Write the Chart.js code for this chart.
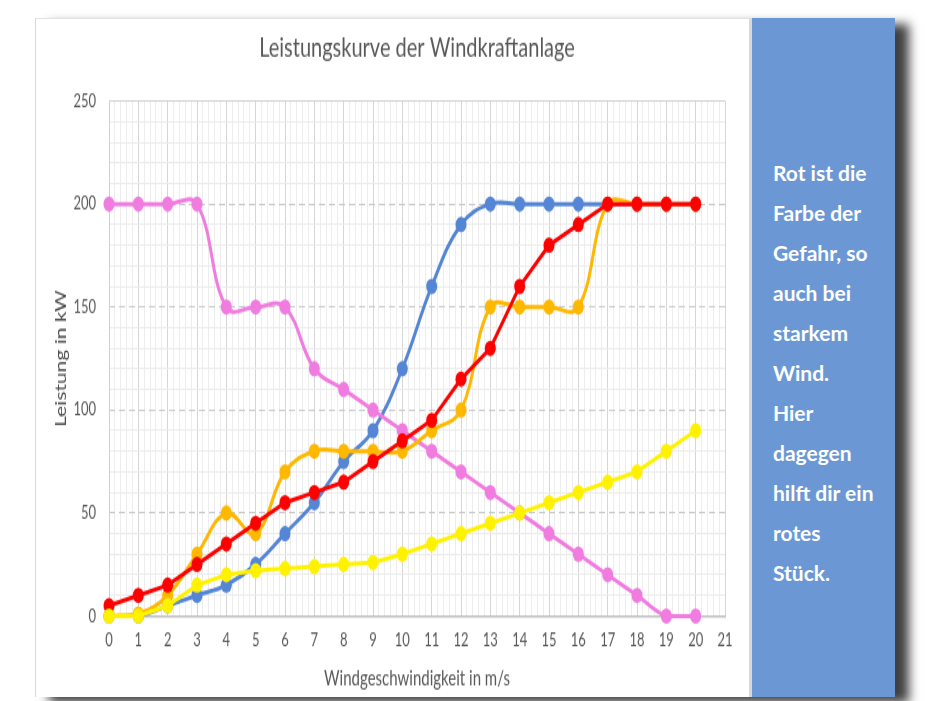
<!DOCTYPE html>
<html>
<head>
<meta charset="utf-8">
<script src="https://cdn.jsdelivr.net/npm/chart.js@4.4.1/dist/chart.umd.min.js"></script>
<style>
  body { margin: 0; width: 925px; height: 701px; background: #fff; position: relative; overflow: hidden; font-family: Lato, sans-serif; }
  #shadow { position: absolute; left: 35px; top: 18px; width: 860px; height: 679px; box-shadow: 14px 6px 10px rgba(0,0,0,0.75); }
  #frame { position: absolute; left: 35px; top: 18px; width: 717px; height: 679px; background: #fff; box-sizing: border-box;
           border-left: 1px solid #d9d9d9; border-top: 1px solid #e2e2e2; border-right: 3px solid #d8d8d8; }
  #stretch { position: absolute; left: 0; top: 0; width: 713px; height: 484px; transform: scaleY(1.4); transform-origin: 0 0; }
  #panel { position: absolute; left: 752px; top: 18px; width: 143px; height: 679px; background: #6b98d5; }
  #note { position: absolute; left: 21px; top: 135px; color: #fff; font-weight: 700; font-size: 21px; line-height: 40px; white-space: nowrap; }
</style>
</head>
<body>
<div id="shadow"></div>
<div id="frame">
  <div id="stretch"><canvas id="wind-chart" width="713" height="484"></canvas></div>
</div>
<div id="panel">
  <div id="note">Rot ist die<br>Farbe der<br>Gefahr, so<br>auch bei<br>starkem<br>Wind.<br>Hier<br>dagegen<br>hilft dir ein<br>rotes<br>Stück.</div>
</div>
<script>
// Windgeschwindigkeit in m/s
const windSpeed = [0, 1, 2, 3, 4, 5, 6, 7, 8, 9, 10, 11, 12, 13, 14, 15, 16, 17, 18, 19, 20];

// Leistung in kW, one array per curve
const blueValues   = [0, 0, 5, 10, 15, 25, 40, 55, 75, 90, 120, 160, 190, 200, 200, 200, 200, 200, 200, 200, 200];
const pinkValues   = [200, 200, 200, 200, 150, 150, 150, 120, 110, 100, 90, 80, 70, 60, 50, 40, 30, 20, 10, 0, 0];
const orangeValues = [0, 1, 10, 30, 50, 40, 70, 80, 80, 80, 80, 90, 100, 150, 150, 150, 150, 200, 200, 200, 200];
const redValues    = [5, 10, 15, 25, 35, 45, 55, 60, 65, 75, 85, 95, 115, 130, 160, 180, 190, 200, 200, 200, 200];
const yellowValues = [0, 0, 5, 15, 20, 22, 23, 24, 25, 26, 30, 35, 40, 45, 50, 55, 60, 65, 70, 80, 90];

const xMax = 21;
const yMax = 250;

const isWhole = v => Math.abs(v - Math.round(v)) < 1e-6;

function points(values) {
  return windSpeed.map((x, i) => ({ x: x, y: values[i] }));
}

function series(values, color, tension) {
  return {
    data: points(values),
    borderColor: color,
    backgroundColor: color,
    pointBackgroundColor: color,
    pointBorderColor: color,
    borderWidth: 3,
    pointRadius: 5.5,
    pointBorderWidth: 0,
    tension: tension,
    clip: false
  };
}

// title centred over the plot area (like the original), not over the whole canvas
const plotTitle = {
  id: 'plotTitle',
  afterDraw(chart) {
    const { ctx, chartArea } = chart;
    ctx.save();
    ctx.font = '20px Lato';
    ctx.fillStyle = '#595959';
    ctx.textAlign = 'center';
    ctx.textBaseline = 'middle';
    ctx.fillText('Leistungskurve der Windkraftanlage', (chartArea.left + chartArea.right) / 2, 21);
    ctx.restore();
  }
};

const tickFont = { family: 'Lato', size: 13 };

new Chart(document.getElementById('wind-chart'), {
  type: 'line',
  data: {
    // first dataset is drawn on top
    datasets: [
      series(yellowValues, '#fff200', 0),
      series(redValues, '#ff0000', 0),
      series(orangeValues, '#ffb800', 0.4),
      series(pinkValues, '#f07ce0', 0.4),
      series(blueValues, '#5585d5', 0.4)
    ]
  },
  options: {
    responsive: false,
    animation: false,
    layout: { padding: { top: 58.6, right: 24, left: 0, bottom: 0 } },
    plugins: { legend: { display: false }, tooltip: { enabled: false } },
    scales: {
      x: {
        type: 'linear',
        min: 0,
        max: xMax,
        ticks: {
          stepSize: 0.2,
          autoSkip: false,
          maxRotation: 0,
          padding: 10,
          color: '#595959',
          font: tickFont,
          callback: v => isWhole(v) ? String(Math.round(v)) : ''
        },
        grid: {
          drawTicks: false,
          color: c => isWhole(c.tick.value) ? '#d6d6d6' : '#ededed'
        },
        border: { color: '#bfbfbf', width: 1.5 },
        title: {
          display: true,
          text: 'Windgeschwindigkeit in m/s',
          color: '#595959',
          font: { family: 'Lato', size: 15 },
          padding: { top: 0, bottom: 4 }
        },
        afterFit: scale => { scale.height = 57.6; }
      },
      y: {
        min: 0,
        max: yMax,
        ticks: {
          stepSize: 10,
          autoSkip: false,
          padding: 13,
          color: '#595959',
          font: tickFont,
          callback: v => v % 50 === 0 ? String(v) : ''
        },
        grid: {
          drawTicks: false,
          color: c => {
            const v = c.tick.value;
            if (v === 0 || v === yMax) return '#d0d0d0';
            return v % 50 === 0 ? 'rgba(0,0,0,0)' : '#ececec';
          }
        },
        border: { color: '#d0d0d0' },
        title: {
          display: true,
          text: 'Leistung in kW',
          color: '#4d4d4d',
          font: { family: 'Lato', size: 15 },
          padding: { top: 16, bottom: 0 }
        },
        afterFit: scale => { scale.width = 73; }
      },
      // second axis only for the dashed major lines every 50 kW
      yMajor: {
        position: 'left',
        min: 0,
        max: yMax,
        ticks: { stepSize: 50, display: false },
        grid: {
          drawTicks: false,
          color: c => (c.tick.value === 0 || c.tick.value === yMax) ? 'rgba(0,0,0,0)' : '#c9c9c9'
        },
        border: { display: false, dash: [6, 4] },
        afterFit: scale => { scale.width = 0; }
      }
    }
  },
  plugins: [plotTitle]
});
</script>
</body>
</html>
